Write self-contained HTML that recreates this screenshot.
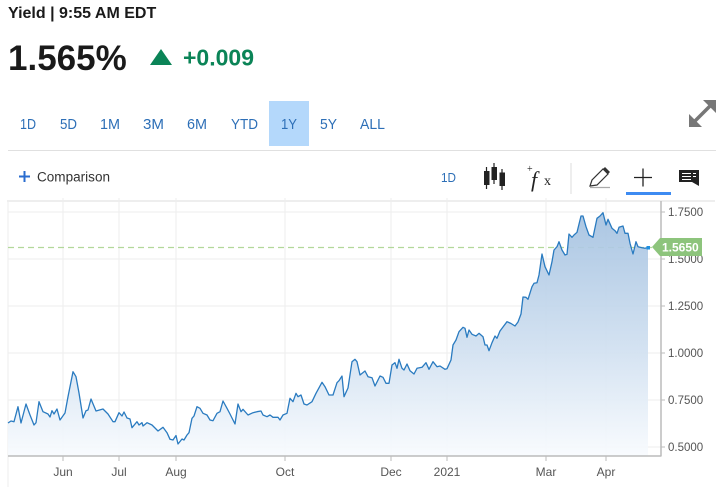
<!DOCTYPE html>
<html><head><meta charset="utf-8"><style>
html,body{margin:0;padding:0;background:#fff;width:722px;height:487px;overflow:hidden;}
svg{display:block;font-family:"Liberation Sans",Arial,sans-serif;}
</style></head><body>
<svg width="722" height="487" viewBox="0 0 722 487" xmlns="http://www.w3.org/2000/svg">
<defs>
<linearGradient id="g" gradientUnits="userSpaceOnUse" x1="0" y1="210" x2="0" y2="456">
<stop offset="0" stop-color="#a3c1e0"/>
<stop offset="0.55" stop-color="#cfdff0"/>
<stop offset="1" stop-color="#f8fbfe"/>
</linearGradient>
</defs>
<!-- header -->
<text x="8" y="18" font-size="16" font-weight="bold" fill="#1a1a1a">Yield | 9:55 AM EDT</text>
<text x="8" y="70" font-size="35" font-weight="bold" fill="#1a1a1a">1.565%</text>
<polygon points="150,65 161,49 172,65" fill="#0b8457"/>
<text x="183" y="65.5" font-size="23" font-weight="bold" fill="#0b8457">+0.009</text>

<!-- range buttons -->
<rect x="269" y="101" width="40" height="45" fill="#b4d8fb"/>
<g font-size="15" fill="#2d6fb7">
<text x="20" y="129" textLength="16" lengthAdjust="spacingAndGlyphs">1D</text>
<text x="60" y="129" textLength="17" lengthAdjust="spacingAndGlyphs">5D</text>
<text x="100" y="129" textLength="20" lengthAdjust="spacingAndGlyphs">1M</text>
<text x="143" y="129" textLength="21" lengthAdjust="spacingAndGlyphs">3M</text>
<text x="187" y="129" textLength="20" lengthAdjust="spacingAndGlyphs">6M</text>
<text x="231" y="129" textLength="27" lengthAdjust="spacingAndGlyphs">YTD</text>
<text x="281" y="129" textLength="16" lengthAdjust="spacingAndGlyphs">1Y</text>
<text x="320" y="129" textLength="17" lengthAdjust="spacingAndGlyphs">5Y</text>
<text x="360" y="129" textLength="25" lengthAdjust="spacingAndGlyphs">ALL</text>
</g>
<!-- expand icon -->
<g fill="#777">
<line x1="693" y1="123" x2="712" y2="104" stroke="#777" stroke-width="3.5"/>
<polygon points="716,100 703,100 716,113"/>
<polygon points="689,127 689,114 702,127"/>
</g>
<line x1="8" y1="150.5" x2="716" y2="150.5" stroke="#e0e0e0" stroke-width="1"/>

<!-- toolbar -->
<rect x="19" y="175.5" width="11" height="2" fill="#2a6ccf"/>
<rect x="23.5" y="171" width="2" height="11" fill="#2a6ccf"/>
<text x="37" y="181.5" font-size="13.5" fill="#333" textLength="73" lengthAdjust="spacingAndGlyphs">Comparison</text>
<text x="441" y="182" font-size="13" fill="#2d6fb7" textLength="15" lengthAdjust="spacingAndGlyphs">1D</text>
<g stroke="#222" stroke-width="1.2">
<line x1="486.5" y1="167" x2="486.5" y2="189"/>
<line x1="494" y1="163" x2="494" y2="184"/>
<line x1="502" y1="169" x2="502" y2="190"/>
</g>
<g fill="#222">
<rect x="484" y="171" width="5.5" height="14"/>
<rect x="491.5" y="167" width="5.5" height="13"/>
<rect x="499.5" y="172.5" width="5.5" height="13.5"/>
</g>
<text x="527" y="172" font-size="10" font-family="Liberation Serif,serif" fill="#222">+</text>
<text x="531" y="187" font-size="22" font-style="italic" font-family="Liberation Serif,serif" fill="#222">f</text>
<text x="544" y="185" font-size="14" font-family="Liberation Serif,serif" fill="#222">x</text>
<line x1="571" y1="163" x2="571" y2="194" stroke="#ddd" stroke-width="1"/>
<!-- pencil -->
<polygon points="590,186 592,180 603,169 608,174 597,185" fill="none" stroke="#333" stroke-width="1.2"/>
<polygon points="603,169 608,174 610,172 605,167" fill="#333"/>
<line x1="590" y1="187.5" x2="610" y2="187.5" stroke="#aaa" stroke-width="1.2"/>
<!-- crosshair -->
<line x1="634" y1="177.5" x2="652" y2="177.5" stroke="#222" stroke-width="1.3"/>
<line x1="643" y1="168.5" x2="643" y2="186.5" stroke="#222" stroke-width="1.3"/>
<rect x="626" y="192" width="45" height="3" fill="#3d8bf2"/>
<!-- comment -->
<rect x="679" y="170" width="20" height="12" fill="#222"/>
<polygon points="692,182 699,182 699,186" fill="#222"/>
<g stroke="#fff" stroke-width="1">
<line x1="682" y1="173.5" x2="691" y2="173.5"/>
<line x1="682" y1="176.5" x2="691" y2="176.5"/>
<line x1="682" y1="179.5" x2="691" y2="179.5"/>
<line x1="693" y1="173.5" x2="696" y2="173.5"/>
<line x1="693" y1="176.5" x2="696" y2="176.5"/>
</g>

<!-- chart frame & grid -->
<line x1="7" y1="201" x2="715" y2="201" stroke="#ddd" stroke-width="1"/>
<line x1="8" y1="201" x2="8" y2="487" stroke="#eee" stroke-width="1"/>
<g stroke="#eeeeee" stroke-width="1">
<line x1="8" y1="212" x2="661" y2="212"/>
<line x1="8" y1="259" x2="661" y2="259"/>
<line x1="8" y1="306" x2="661" y2="306"/>
<line x1="8" y1="353" x2="661" y2="353"/>
<line x1="8" y1="400" x2="661" y2="400"/>
<line x1="8" y1="447" x2="661" y2="447"/>
<line x1="63" y1="198" x2="63" y2="456"/>
<line x1="119" y1="198" x2="119" y2="456"/>
<line x1="176" y1="198" x2="176" y2="456"/>
<line x1="285" y1="198" x2="285" y2="456"/>
<line x1="391" y1="198" x2="391" y2="456"/>
<line x1="447" y1="198" x2="447" y2="456"/>
<line x1="546" y1="198" x2="546" y2="456"/>
<line x1="606" y1="198" x2="606" y2="456"/>
</g>

<!-- series -->
<line x1="8" y1="247.5" x2="652" y2="247.5" stroke="#b2d89a" stroke-width="1.2" stroke-dasharray="6,4"/>
<path d="M8,423 L11,421 L14,421.7 L18,406.7 L21,423 L26,404 L30,415 L34,425 L36,422.7 L39,401.7 L43,411.7 L48,414 L50,417 L52,410.7 L54,414 L57,409 L60,420 L65,413 L68,396.7 L73,371.7 L76,376.7 L79,393 L83,418 L86,410.7 L88,410 L91,399 L96,411 L103,409 L108,414 L113,421.7 L115,421.7 L119,412.7 L122,416 L124,412 L127,418 L130,419 L132,427.7 L137,421.7 L139,425 L142,422.7 L143,426 L147,422.7 L152,425 L158,431 L163,427.3 L167,432.7 L170,439.3 L173,440 L176,435.5 L178,444 L182,439 L184,440 L187,435 L189,432.7 L192,418.3 L194,416 L197,406.7 L200,408.3 L203,413.3 L207,415 L210,420 L213,420.7 L217,413.3 L220,411.7 L223,401 L227,408.3 L230,414 L235,424 L238,404 L241,411.7 L243,409.3 L248,415 L253,412.7 L257,411.7 L261,411 L263,415 L267,416.7 L270,415 L273,417.3 L278,417.3 L280,420 L283,415 L287,413.3 L290,398.3 L293,401.7 L296,393.3 L298,396.7 L301,395 L304,404 L307,405 L312,401.7 L316,393.3 L322,382.3 L325,386.7 L329,395 L333,395 L337,382.7 L339,380.7 L342,376 L344,396.7 L348,388 L352,361.7 L355,359.3 L357,361.7 L360,375 L365,371 L368,376.7 L372,377.7 L375,386 L380,376 L383,377.3 L386,383.3 L389,383.3 L392,365 L395,362.7 L397,368.3 L399,359.3 L402,368.3 L404,370 L407,364 L410,370.7 L414,374 L417,368.3 L422,367.3 L426,362.7 L429,369.3 L433,361.7 L437,366.7 L440,366 L445,369.3 L447,368.7 L451,360 L453,345 L456,340 L459,331.7 L463,327.3 L465,328.3 L467,337.3 L469,330 L472,334.3 L476,336 L479,333.3 L483,336.7 L485,345 L487,345 L489,350.7 L492,342.7 L495,336 L497,338.3 L500,331 L503,327 L507,321.7 L511,323.5 L515,326 L518,322 L521,314 L523,297 L526,297.3 L528,299.3 L532,286.7 L534,283.3 L537,282.7 L539,275 L542,254 L545,266.7 L549,275 L552,261.7 L554,250 L557,246.7 L559,241.7 L562,250 L565,255 L567,254.3 L569,234 L572,237.3 L574,235 L577,232.3 L581,216 L583,216 L586,226.7 L589,235 L593,237.3 L597,218.3 L600,216 L603,212.7 L606,225 L608,219.3 L612,228.3 L615,230.7 L617,233.3 L619,227.3 L623,226 L625,233.3 L628,233.3 L630,243.3 L633,254 L636,241.7 L638,246.7 L642,247.7 L645,248.3 L648,247.5 L648,456 L8,456 Z" fill="url(#g)" fill-opacity="0.92" stroke="none"/>
<path d="M8,423 L11,421 L14,421.7 L18,406.7 L21,423 L26,404 L30,415 L34,425 L36,422.7 L39,401.7 L43,411.7 L48,414 L50,417 L52,410.7 L54,414 L57,409 L60,420 L65,413 L68,396.7 L73,371.7 L76,376.7 L79,393 L83,418 L86,410.7 L88,410 L91,399 L96,411 L103,409 L108,414 L113,421.7 L115,421.7 L119,412.7 L122,416 L124,412 L127,418 L130,419 L132,427.7 L137,421.7 L139,425 L142,422.7 L143,426 L147,422.7 L152,425 L158,431 L163,427.3 L167,432.7 L170,439.3 L173,440 L176,435.5 L178,444 L182,439 L184,440 L187,435 L189,432.7 L192,418.3 L194,416 L197,406.7 L200,408.3 L203,413.3 L207,415 L210,420 L213,420.7 L217,413.3 L220,411.7 L223,401 L227,408.3 L230,414 L235,424 L238,404 L241,411.7 L243,409.3 L248,415 L253,412.7 L257,411.7 L261,411 L263,415 L267,416.7 L270,415 L273,417.3 L278,417.3 L280,420 L283,415 L287,413.3 L290,398.3 L293,401.7 L296,393.3 L298,396.7 L301,395 L304,404 L307,405 L312,401.7 L316,393.3 L322,382.3 L325,386.7 L329,395 L333,395 L337,382.7 L339,380.7 L342,376 L344,396.7 L348,388 L352,361.7 L355,359.3 L357,361.7 L360,375 L365,371 L368,376.7 L372,377.7 L375,386 L380,376 L383,377.3 L386,383.3 L389,383.3 L392,365 L395,362.7 L397,368.3 L399,359.3 L402,368.3 L404,370 L407,364 L410,370.7 L414,374 L417,368.3 L422,367.3 L426,362.7 L429,369.3 L433,361.7 L437,366.7 L440,366 L445,369.3 L447,368.7 L451,360 L453,345 L456,340 L459,331.7 L463,327.3 L465,328.3 L467,337.3 L469,330 L472,334.3 L476,336 L479,333.3 L483,336.7 L485,345 L487,345 L489,350.7 L492,342.7 L495,336 L497,338.3 L500,331 L503,327 L507,321.7 L511,323.5 L515,326 L518,322 L521,314 L523,297 L526,297.3 L528,299.3 L532,286.7 L534,283.3 L537,282.7 L539,275 L542,254 L545,266.7 L549,275 L552,261.7 L554,250 L557,246.7 L559,241.7 L562,250 L565,255 L567,254.3 L569,234 L572,237.3 L574,235 L577,232.3 L581,216 L583,216 L586,226.7 L589,235 L593,237.3 L597,218.3 L600,216 L603,212.7 L606,225 L608,219.3 L612,228.3 L615,230.7 L617,233.3 L619,227.3 L623,226 L625,233.3 L628,233.3 L630,243.3 L633,254 L636,241.7 L638,246.7 L642,247.7 L645,248.3 L648,247.5" fill="none" stroke="#2a7bc0" stroke-width="1.3" stroke-linejoin="round"/>
<rect x="646.5" y="246" width="3.5" height="3.5" fill="#1e90e0"/>

<!-- axes -->
<line x1="8" y1="456" x2="661" y2="456" stroke="#bbb" stroke-width="1.5"/>
<line x1="661" y1="201" x2="661" y2="456.5" stroke="#bbb" stroke-width="1.5"/>
<g stroke="#bbb" stroke-width="1">
<line x1="63" y1="456" x2="63" y2="461"/>
<line x1="119" y1="456" x2="119" y2="461"/>
<line x1="176" y1="456" x2="176" y2="461"/>
<line x1="285" y1="456" x2="285" y2="461"/>
<line x1="391" y1="456" x2="391" y2="461"/>
<line x1="447" y1="456" x2="447" y2="461"/>
<line x1="546" y1="456" x2="546" y2="461"/>
<line x1="606" y1="456" x2="606" y2="461"/>
<line x1="661" y1="212" x2="665" y2="212"/>
<line x1="661" y1="259" x2="665" y2="259"/>
<line x1="661" y1="306" x2="665" y2="306"/>
<line x1="661" y1="353" x2="665" y2="353"/>
<line x1="661" y1="400" x2="665" y2="400"/>
<line x1="661" y1="447" x2="665" y2="447"/>
</g>
<g font-size="11.5" fill="#555">
<text x="668" y="216">1.7500</text>
<text x="668" y="263">1.5000</text>
<text x="668" y="310">1.2500</text>
<text x="668" y="357">1.0000</text>
<text x="668" y="404">0.7500</text>
<text x="668" y="451">0.5000</text>
</g>
<!-- last value label -->
<polygon points="652,247 660,238 702,238 702,256 660,256" fill="#8dc47c"/>
<text x="662" y="251.5" font-size="12" font-weight="bold" fill="#fff">1.5650</text>
<g font-size="12" fill="#555" text-anchor="middle">
<text x="63" y="476">Jun</text>
<text x="119" y="476">Jul</text>
<text x="176" y="476">Aug</text>
<text x="285" y="476">Oct</text>
<text x="391" y="476">Dec</text>
<text x="447" y="476">2021</text>
<text x="546" y="476">Mar</text>
<text x="606" y="476">Apr</text>
</g>
</svg>
</body></html>
